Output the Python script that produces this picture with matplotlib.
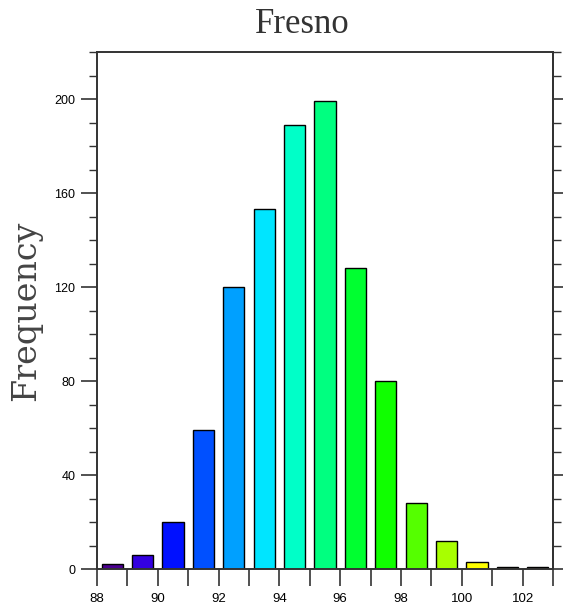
import numpy as np
import matplotlib
matplotlib.use("Agg")
import matplotlib.pyplot as plt
from matplotlib.ticker import MultipleLocator

# histogram bins (left edges) and counts
bin_left = np.arange(88, 103)
counts = [2, 6, 20, 59, 120, 153, 189, 199, 128, 80, 28, 12, 3, 1, 1]
bar_colors = ["#4a0090", "#3300e0", "#0010ff", "#0050ff", "#00a0ff",
              "#00e5ff", "#00ffc8", "#00ff80", "#00ff30", "#10ff00",
              "#55ff00", "#a8ff00", "#ffff00", "#806000", "#8b4010"]
x_ticks = np.arange(88, 104, 2)
y_ticks = np.arange(0, 201, 40)

fig = plt.figure(figsize=(5.64, 6.16), dpi=100)
ax = fig.add_axes([97/564, 1 - 569/616, 456/564, 517/616])

ax.bar(bin_left + 0.5, counts, width=0.7, color=bar_colors,
       edgecolor="black", linewidth=1.0, zorder=2)

ax.set_xlim(88, 103)
ax.set_ylim(0, 220)
ax.set_xticks(x_ticks)
ax.xaxis.set_minor_locator(MultipleLocator(1))
ax.set_yticks(y_ticks)
ax.yaxis.set_minor_locator(MultipleLocator(10))

frame_col = "#333333"
for s in ax.spines.values():
    s.set_color(frame_col)
    s.set_linewidth(1.4)

ax.tick_params(axis="x", which="both", direction="out", length=12.5, width=1.2,
               color=frame_col, pad=5, labelsize=9.5)
ax.tick_params(axis="y", which="major", direction="out", length=11.5, width=1.2,
               color=frame_col, pad=4, labelsize=9)
ax.tick_params(axis="y", which="minor", direction="out", length=5.8, width=1.0,
               color=frame_col)
for lab in ax.get_xticklabels() + ax.get_yticklabels():
    lab.set_family("Liberation Sans")

# short outward ticks on the right edge, no labels
rax = ax.secondary_yaxis("right")
rax.set_yticks(y_ticks)
rax.yaxis.set_minor_locator(MultipleLocator(10))
rax.tick_params(which="major", direction="out", length=7, width=1.2,
                color=frame_col, labelright=False)
rax.tick_params(which="minor", direction="out", length=5.5, width=1.0,
                color=frame_col)
rax.spines["right"].set_color(frame_col)
rax.spines["right"].set_linewidth(1.4)

ax.set_title("Fresno", family="Liberation Serif", fontsize=25, pad=13.5,
             color="#333333", x=0.45)
ax.set_ylabel("Frequency", family="DejaVu Serif", fontsize=24,
              labelpad=9, color="#444444")

fig.savefig("out.png", dpi=100)
